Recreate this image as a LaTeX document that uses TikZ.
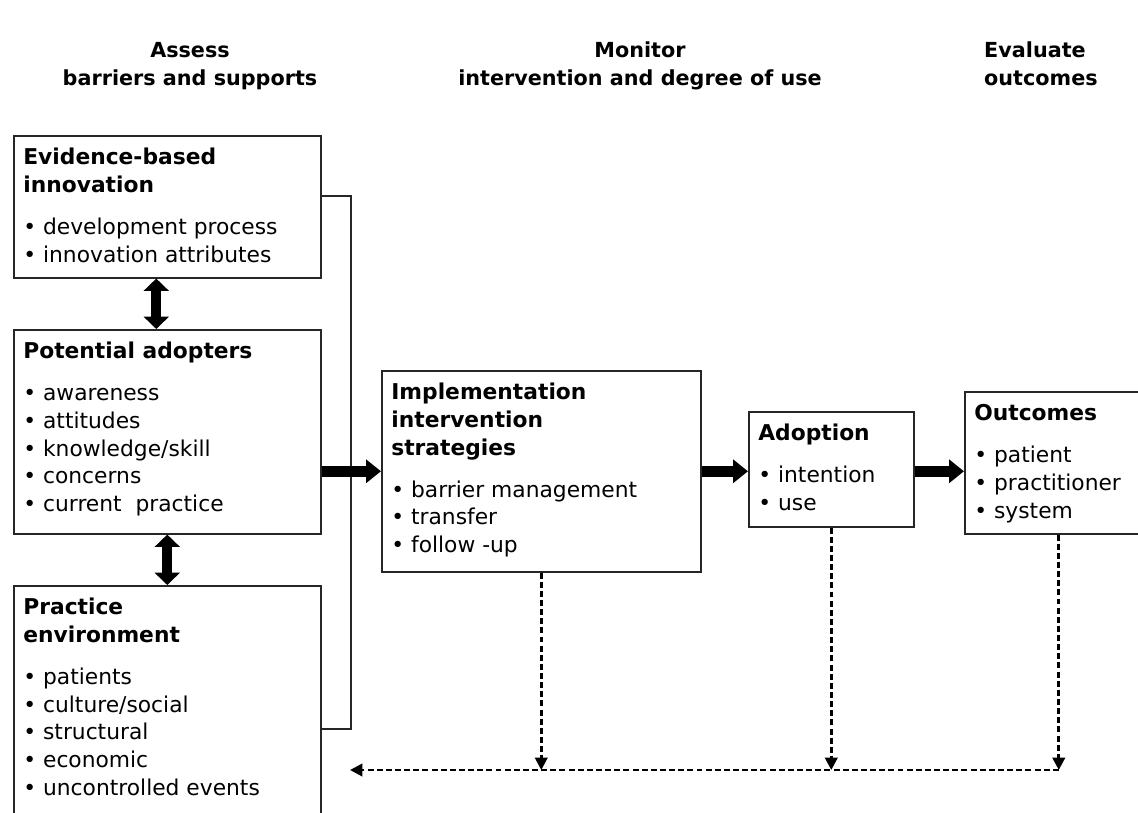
\documentclass[tikz,border=0pt]{standalone}
\usepackage{fontspec}
\setmainfont{DejaVu Sans}
\usetikzlibrary{positioning,arrows.meta}
\tikzset{
  boxframe/.style={rectangle, draw=black!85, line width=0.9pt, anchor=north west, inner sep=0pt},
  boxtext/.style={anchor=north west, align=left, inner sep=0pt, xshift=0.2cm, yshift=-0.2cm},
  header/.style={align=center, anchor=north, font=\fontsize{11.8}{15.8}\selectfont\bfseries},
  fwd/.style={line width=6.5pt, -{Triangle[length=8.5pt,width=13pt]}},
  twoway/.style={line width=5.5pt, {Triangle[length=7pt,width=14pt]}-{Triangle[length=7pt,width=14pt]}},
  loopback/.style={line width=1.6pt, dash pattern=on 3.4pt off 1.8pt, -{Triangle[length=7pt,width=7pt]}},
  bracket/.style={draw=black!85, line width=0.9pt},
}
\newcommand{\ttl}[1]{\textbf{#1}}
\newcommand{\bul}{\textbullet\ }

\begin{document}
\begin{tikzpicture}[x=0.02cm, y=-0.02cm, font=\fontsize{12.4}{15.8}\selectfont]
  \useasboundingbox (0,0) rectangle (1138,812);

  % column headers
  \node[header] (hassess) at (190,32) {\strut Assess\\barriers and supports};
  \node[header] (hmonitor) at (640,32) {\strut Monitor\\intervention and degree of use};
  \node[header, align=left, anchor=north west] (hevaluate) at (978,32) {\strut Evaluate\\outcomes};

  % left column: what gets assessed
  \node[boxframe, minimum width=6.14cm, minimum height=2.84cm] (evid) at (13,135) {};
  \node[boxframe, minimum width=6.14cm, minimum height=4.08cm] (potad) at (13,329) {};
  \node[boxframe, minimum width=6.14cm, minimum height=5.72cm] (prac) at (13,585) {};
  \node[boxtext] (evidtxt) at (evid.north west) {\strut\ttl{Evidence-based}\\\ttl{innovation}\\[8pt]\bul development process\\\bul innovation attributes};
  \node[boxtext] (potadtxt) at (potad.north west) {\strut\ttl{Potential adopters}\\[8pt]\bul awareness\\\bul attitudes\\\bul knowledge/skill\\\bul concerns\\\bul current\ \ practice};
  \node[boxtext] (practxt) at (prac.north west) {\strut\ttl{Practice}\\\ttl{environment}\\[8pt]\bul patients\\\bul culture/social\\\bul structural\\\bul economic\\\bul uncontrolled events};

  \draw[twoway] ([xshift=-0.22cm]evid.south) -- ([xshift=-0.22cm]potad.north);
  \draw[twoway] (potad.south) -- (prac.north);

  \coordinate (brk) at (351,450);
  \draw[bracket] ([yshift=0.22cm]evid.east) -| (brk) |- (prac.east);

  % middle and right
  \node[boxframe, minimum width=6.38cm, minimum height=4.02cm] (impl) at (381,370) {};
  \node[boxframe, minimum width=3.3cm, minimum height=2.3cm] (adop) at (748,411) {};
  \node[boxframe, minimum width=3.76cm, minimum height=2.84cm] (outc) at (964,391) {};
  \node[boxtext] (impltxt) at (impl.north west) {\strut\ttl{Implementation}\\\ttl{intervention}\\\ttl{strategies}\\[8pt]\bul barrier management\\\bul transfer\\\bul follow -up};
  \node[boxtext] (adoptxt) at (adop.north west) {\strut\ttl{Adoption}\\[8pt]\bul intention\\\bul use};
  \node[boxtext] (outctxt) at (outc.north west) {\strut\ttl{Outcomes}\\[8pt]\bul patient\\\bul practitioner\\\bul system};

  \draw[fwd] (potad.east |- impl.west) -- (impl.west);
  \draw[fwd] (impl.east) -- (adop.west |- impl.east);
  \draw[fwd] (adop.east |- impl.east) -- (outc.west |- impl.east);

  % feedback
  \coordinate (fbk) at (350,770);
  \draw[loopback] (impl.south) -- (impl.south |- fbk);
  \draw[loopback] (adop.south) -- (adop.south |- fbk);
  \draw[loopback] (outc.south) -- (outc.south |- fbk);
  \draw[loopback] (outc.south |- fbk) -- (fbk);
\end{tikzpicture}
\end{document}
